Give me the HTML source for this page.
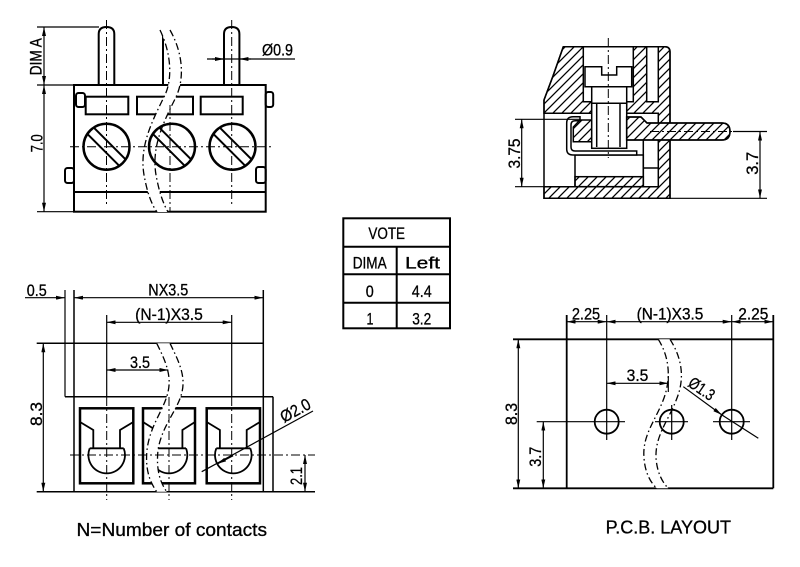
<!DOCTYPE html>
<html><head><meta charset="utf-8"><title>terminal block drawing</title>
<style>
html,body{margin:0;padding:0;background:#fff;width:800px;height:567px;overflow:hidden}
svg{display:block}
text{font-family:"Liberation Sans",sans-serif;font-size:16.5px;fill:#000;stroke:#000;stroke-width:0.3}
</style></head><body>
<svg width="800" height="567" viewBox="0 0 800 567" xmlns="http://www.w3.org/2000/svg">
<defs>
<marker id="a" viewBox="0 0 9 4" refX="9" refY="2" markerWidth="9" markerHeight="4" markerUnits="userSpaceOnUse" orient="auto-start-reverse"><path d="M0,0L9,2L0,4Z" fill="#000"/></marker>
<pattern id="h" patternUnits="userSpaceOnUse" width="9" height="9"><path d="M-2,2L2,-2M0,9L9,0M7,11L11,7" stroke="#000" stroke-width="1.3"/></pattern>
</defs>
<rect width="800" height="567" fill="#fff"/>

<!-- ================= TOP LEFT (front view) ================= -->
<g fill="none" stroke="#000" stroke-width="2">
<rect x="74" y="85" width="191.7" height="126.7"/>
<line x1="74" y1="192" x2="265.7" y2="192"/>
<path d="M98.7,85V34Q98.7,27 106.5,27Q114.3,27 114.3,34V85"/>
<path d="M224,85V34Q224,27 231.7,27Q239.4,27 239.4,34V85"/>
<line x1="163" y1="33" x2="163" y2="85"/>
<rect x="85.7" y="96.7" width="42.6" height="17.6"/>
<rect x="137" y="96.7" width="56" height="17.6"/>
<rect x="200.7" y="96.7" width="42" height="17.6"/>
<rect x="76" y="93" width="9" height="14" rx="2.5"/>
<rect x="65" y="168" width="9" height="15" rx="2.5"/>
<rect x="265.7" y="92" width="7.5" height="15" rx="2.5"/>
<rect x="256" y="167" width="9.7" height="16" rx="2.5"/>
</g>
<path d="M160,30C172,55 172,80 165,95C150,125 138,150 145,180C148,195 152,205 157,212L168,212C164,205 160,195 157,180C150,150 162,125 176,97C184,80 184,55 170,30Z" fill="#fff"/>
<g fill="none" stroke="#000" stroke-width="2.5">
<circle cx="106.5" cy="146.7" r="23"/>
<circle cx="172" cy="146.7" r="23"/>
<circle cx="232.5" cy="146.7" r="23"/>
</g>
<g stroke="#000" stroke-width="2">
<line x1="93.73" y1="127.57" x2="125.63" y2="159.47"/>
<line x1="87.37" y1="133.93" x2="119.27" y2="165.83"/>
<line x1="159.23" y1="127.57" x2="191.13" y2="159.47"/>
<line x1="152.87" y1="133.93" x2="184.77" y2="165.83"/>
<line x1="219.73" y1="127.57" x2="251.63" y2="159.47"/>
<line x1="213.37" y1="133.93" x2="245.27" y2="165.83"/>
</g>
<g stroke="#000" stroke-width="1" stroke-dasharray="9 3 2 3" fill="none">
<line x1="70" y1="146.7" x2="271" y2="146.7"/>
<line x1="106.5" y1="20" x2="106.5" y2="205"/>
<line x1="231.7" y1="20" x2="231.7" y2="205"/>
<line x1="170" y1="105" x2="170" y2="212"/>
</g>
<g stroke="#000" stroke-width="1.3" stroke-dasharray="7 3 1.5 3" fill="none">
<path d="M160,30C172,55 172,80 165,95C150,125 138,150 145,180C148,195 152,205 157,212"/>
<path d="M170,30C184,55 184,80 176,97C162,125 150,150 157,180C160,195 164,205 168,212"/>
</g>
<g stroke="#000" stroke-width="1.2" fill="none">
<line x1="37" y1="27" x2="99" y2="27"/>
<line x1="37" y1="85" x2="74" y2="85"/>
<line x1="37" y1="211.7" x2="74" y2="211.7"/>
<line x1="44" y1="27" x2="44" y2="85" marker-start="url(#a)" marker-end="url(#a)"/>
<line x1="44" y1="85" x2="44" y2="211.7" marker-start="url(#a)" marker-end="url(#a)"/>
<line x1="207" y1="59" x2="295" y2="59"/>
<path d="M212,59H224" marker-end="url(#a)"/>
<path d="M251,59H239.4" marker-end="url(#a)"/>
</g>
<text transform="translate(41.5,56.7) rotate(-90)" text-anchor="middle" textLength="37" lengthAdjust="spacingAndGlyphs">DIM A</text>
<text transform="translate(42.3,143.3) rotate(-90)" text-anchor="middle" textLength="18" lengthAdjust="spacingAndGlyphs">7.0</text>
<text x="262" y="55.5" textLength="31" lengthAdjust="spacingAndGlyphs">Ø0.9</text>

<!-- ================= TOP RIGHT (section) ================= -->
<g stroke="#000" stroke-width="1.5">
<path d="M563.3,46.7H665Q670,46.7 670,52V198.3H544V100L553,76Z" fill="#fff"/>
<path d="M563.3,46.7H583.3V101.7H591.7V113.3H544V100L553,76Z" fill="url(#h)"/>
<path d="M633.3,46.7H646.7V101.7H658.3V46.7H665Q670,46.7 670,52V198.3H544V186.7H658.3V113.3H626.7V101.7H633.3Z" fill="url(#h)"/>
<rect x="575" y="155" width="68.3" height="31.7" fill="#fff"/>
<rect x="575" y="176.7" width="68.3" height="10" fill="url(#h)"/>
<path d="M580,116.7H573Q566.7,116.7 566.7,123V149Q566.7,155 573,155H636.7V151H575Q571,151 571,147V125Q571,120.7 575,120.7H580Z" fill="#fff"/>
<path d="M580,120H591.7V141.7H573.3V127Z" fill="url(#h)"/>
<rect x="591.7" y="86.7" width="35" height="61.6" fill="#fff"/>
<path d="M585,86.7V66.7H601.7V75H616.7V66.7H631.7V86.7Z" fill="#fff"/>
<path d="M626.7,117H641L647,123H722Q730,123 730,131.5Q730,140 722,140H626.7Z" fill="#fff"/>
<path d="M626.7,117H641L647,123H722Q730,123 730,131.5Q730,140 722,140H626.7Z" fill="url(#h)"/>
<line x1="591.7" y1="103.3" x2="626.7" y2="103.3"/>
<line x1="596.7" y1="103.3" x2="596.7" y2="147"/>
<line x1="620" y1="103.3" x2="620" y2="147"/>
<line x1="643.3" y1="140" x2="643.3" y2="186.7"/>
<line x1="643.3" y1="168" x2="658.3" y2="168"/>
</g>
<g stroke="#000" stroke-width="1" stroke-dasharray="9 3 2 3" fill="none">
<line x1="608.3" y1="38" x2="608.3" y2="158"/>
<line x1="650" y1="131.5" x2="736" y2="131.5"/>
</g>
<g stroke="#000" stroke-width="1.2" fill="none">
<line x1="515" y1="119.3" x2="580" y2="119.3"/>
<line x1="515" y1="186.7" x2="544" y2="186.7"/>
<line x1="521.7" y1="119.3" x2="521.7" y2="186.7" marker-start="url(#a)" marker-end="url(#a)"/>
<line x1="733" y1="131.5" x2="767" y2="131.5"/>
<line x1="670" y1="198.3" x2="767" y2="198.3"/>
<line x1="760" y1="131.5" x2="760" y2="198.3" marker-start="url(#a)" marker-end="url(#a)"/>
</g>
<text transform="translate(519.8,153.5) rotate(-90)" text-anchor="middle" textLength="30" lengthAdjust="spacingAndGlyphs">3.75</text>
<text transform="translate(757.8,163.3) rotate(-90)" text-anchor="middle" textLength="23" lengthAdjust="spacingAndGlyphs">3.7</text>

<!-- ================= TABLE ================= -->
<g stroke="#000" stroke-width="2" fill="none">
<rect x="343.3" y="218.3" width="106.7" height="110"/>
<line x1="343.3" y1="246.7" x2="450" y2="246.7"/>
<line x1="343.3" y1="274.3" x2="450" y2="274.3"/>
<line x1="343.3" y1="302.7" x2="450" y2="302.7"/>
<line x1="396.7" y1="246.7" x2="396.7" y2="328.3"/>
</g>
<text x="386.7" y="239" text-anchor="middle" textLength="36.7" lengthAdjust="spacingAndGlyphs">VOTE</text>
<text x="369.7" y="268.5" text-anchor="middle" textLength="34" lengthAdjust="spacingAndGlyphs">DIMA</text>
<text x="422.5" y="268.5" text-anchor="middle" textLength="35" lengthAdjust="spacingAndGlyphs">Left</text>
<text x="369.7" y="297" text-anchor="middle" textLength="8" lengthAdjust="spacingAndGlyphs">0</text>
<text x="421.7" y="297" text-anchor="middle" textLength="20" lengthAdjust="spacingAndGlyphs">4.4</text>
<text x="370" y="324.5" text-anchor="middle" textLength="7" lengthAdjust="spacingAndGlyphs">1</text>
<text x="421.7" y="324.5" text-anchor="middle" textLength="19" lengthAdjust="spacingAndGlyphs">3.2</text>

<!-- ================= BOTTOM LEFT ================= -->
<g stroke="#000" fill="none">
<g stroke-width="1.5">
<line x1="36.7" y1="343.3" x2="263.3" y2="343.3"/>
<line x1="74" y1="290" x2="74" y2="491.7"/>
<line x1="263.3" y1="290" x2="263.3" y2="491.7"/>
<line x1="65" y1="396.7" x2="273" y2="396.7"/>
<line x1="273" y1="396.7" x2="273" y2="491.7"/>
<line x1="36.7" y1="491.7" x2="315" y2="491.7"/>
</g>
<g stroke-width="2.5">
<rect x="80" y="408.3" width="53.3" height="75"/>
<rect x="143" y="408.3" width="52" height="75"/>
<rect x="206.7" y="408.3" width="53.3" height="75"/>
</g>
<g stroke-width="1.8">
<path d="M80,422L93.3,430V448.3M120,448.3V430L133.3,422M89.7,448.3H123.7M89.7,448.3A18.3,18.3 0 1 0 123.7,448.3"/>
<path d="M143,422L155.6,430V448.3M182.4,448.3V430L195,422M152,448.3H186M152,448.3A18.3,18.3 0 1 0 186,448.3"/>
<path d="M206.7,422L219.9,430V448.3M246.7,448.3V430L260,422M216.3,448.3H250.3M216.3,448.3A18.3,18.3 0 1 0 250.3,448.3"/>
</g>
</g>
<path d="M156.7,343.3C165,360 172,375 168,392C164,410 150,425 147,450C145,470 150,482 156.7,491.7L166.7,491.7C160,482 156,470 158,450C162,425 178,410 182,392C186,375 178,360 170,343.3Z" fill="#fff"/>
<g stroke="#000" stroke-width="1.3" stroke-dasharray="7 3 1.5 3" fill="none">
<path d="M156.7,343.3C165,360 172,375 168,392C164,410 150,425 147,450C145,470 150,482 156.7,491.7"/>
<path d="M170,343.3C178,360 186,375 182,392C178,410 162,425 158,450C156,470 160,482 166.7,491.7"/>
</g>
<g stroke="#000" stroke-width="1" stroke-dasharray="9 3 2 3" fill="none">
<line x1="70" y1="455" x2="315" y2="455"/>
<line x1="106.7" y1="397" x2="106.7" y2="500"/>
<line x1="169" y1="397" x2="169" y2="500"/>
<line x1="231.7" y1="397" x2="231.7" y2="500"/>
</g>
<g stroke="#000" stroke-width="1.2" fill="none">
<line x1="65" y1="290" x2="65" y2="396.7"/>
<line x1="106.7" y1="315" x2="106.7" y2="397"/>
<line x1="231.7" y1="315" x2="231.7" y2="397"/>
<line x1="25" y1="297.7" x2="65" y2="297.7" marker-end="url(#a)"/>
<line x1="74" y1="297.7" x2="263.3" y2="297.7" marker-start="url(#a)" marker-end="url(#a)"/>
<line x1="106.7" y1="322.3" x2="231.7" y2="322.3" marker-start="url(#a)" marker-end="url(#a)"/>
<line x1="106.7" y1="370" x2="168.3" y2="370" marker-start="url(#a)" marker-end="url(#a)"/>
<line x1="43.3" y1="343.3" x2="43.3" y2="491.7" marker-start="url(#a)" marker-end="url(#a)"/>
<line x1="305" y1="455" x2="305" y2="491.7" marker-start="url(#a)" marker-end="url(#a)"/>
<line x1="201.7" y1="471.7" x2="313" y2="411"/>
<path d="M233,455.5L217.2,463.8" marker-end="url(#a)" stroke-width="1.6"/>
</g>
<text x="26.7" y="296" textLength="20" lengthAdjust="spacingAndGlyphs">0.5</text>
<text x="168.3" y="295.7" text-anchor="middle" textLength="40" lengthAdjust="spacingAndGlyphs">NX3.5</text>
<text x="169" y="320" text-anchor="middle" textLength="67.7" lengthAdjust="spacingAndGlyphs">(N-1)X3.5</text>
<text x="140" y="368" text-anchor="middle" textLength="20" lengthAdjust="spacingAndGlyphs">3.5</text>
<text transform="translate(41.8,414) rotate(-90)" text-anchor="middle" textLength="24" lengthAdjust="spacingAndGlyphs">8.3</text>
<text transform="translate(302,476) rotate(-90)" text-anchor="middle" textLength="18" lengthAdjust="spacingAndGlyphs">2.1</text>
<text transform="translate(284,423) rotate(-28.6)" textLength="32" lengthAdjust="spacingAndGlyphs">Ø2.0</text>

<!-- ================= BOTTOM RIGHT (PCB) ================= -->
<g stroke="#000" stroke-width="1.8" fill="none">
<line x1="513" y1="339.3" x2="773.3" y2="339.3"/>
<line x1="513" y1="488.3" x2="773.3" y2="488.3"/>
<line x1="566.7" y1="315" x2="566.7" y2="488.3"/>
<line x1="773.3" y1="315" x2="773.3" y2="488.3"/>
</g>
<path d="M658.3,339.3C668,355 672,375 664,398C656,420 642,435 644,458C645,472 650,482 656.7,488.3L668.3,488.3C662,482 657,472 656,458C655,435 669,420 677,398C686,375 680,355 670,339.3Z" fill="#fff"/>
<g stroke="#000" stroke-width="1.3" stroke-dasharray="7 3 1.5 3" fill="none">
<path d="M658.3,339.3C668,355 672,375 664,398C656,420 642,435 644,458C645,472 650,482 656.7,488.3"/>
<path d="M670,339.3C680,355 686,375 677,398C669,420 655,435 656,458C657,472 662,482 668.3,488.3"/>
</g>
<g stroke="#000" stroke-width="1.8" fill="none">
<circle cx="606.7" cy="421.7" r="12"/>
<circle cx="671.7" cy="421.7" r="12"/>
<circle cx="731.7" cy="421.7" r="12"/>
</g>
<g stroke="#000" stroke-width="1.2" fill="none">
<line x1="536.7" y1="421.7" x2="625" y2="421.7"/>
<line x1="606.7" y1="315" x2="606.7" y2="440"/>
<line x1="655" y1="421.7" x2="688" y2="421.7"/>
<line x1="671.7" y1="405" x2="671.7" y2="440"/>
<line x1="668.3" y1="376" x2="668.3" y2="392"/>
<line x1="713" y1="421.7" x2="750" y2="421.7"/>
<line x1="731.7" y1="315" x2="731.7" y2="440"/>
<line x1="566.7" y1="321.7" x2="606.7" y2="321.7" marker-start="url(#a)" marker-end="url(#a)"/>
<line x1="606.7" y1="321.7" x2="731.7" y2="321.7" marker-start="url(#a)" marker-end="url(#a)"/>
<line x1="731.7" y1="321.7" x2="773.3" y2="321.7" marker-start="url(#a)" marker-end="url(#a)"/>
<line x1="606.7" y1="383.3" x2="668.3" y2="383.3" marker-start="url(#a)" marker-end="url(#a)"/>
<line x1="518.3" y1="339.3" x2="518.3" y2="488.3" marker-start="url(#a)" marker-end="url(#a)"/>
<line x1="543.3" y1="421.7" x2="543.3" y2="488.3" marker-start="url(#a)" marker-end="url(#a)"/>
<path d="M683.3,386.7L721.8,414.9" marker-end="url(#a)"/>
<line x1="721.8" y1="414.9" x2="758.3" y2="438.3"/>
</g>
<text x="586" y="319.5" text-anchor="middle" textLength="28.3" lengthAdjust="spacingAndGlyphs">2.25</text>
<text x="670" y="319.5" text-anchor="middle" textLength="66.7" lengthAdjust="spacingAndGlyphs">(N-1)X3.5</text>
<text x="753.3" y="319.5" text-anchor="middle" textLength="30" lengthAdjust="spacingAndGlyphs">2.25</text>
<text x="637.5" y="381" text-anchor="middle" textLength="21.7" lengthAdjust="spacingAndGlyphs">3.5</text>
<text transform="translate(516.8,414) rotate(-90)" text-anchor="middle" textLength="22" lengthAdjust="spacingAndGlyphs">8.3</text>
<text transform="translate(541,456.7) rotate(-90)" text-anchor="middle" textLength="20" lengthAdjust="spacingAndGlyphs">3.7</text>
<text transform="translate(687,385.5) rotate(34.5)" textLength="28" lengthAdjust="spacingAndGlyphs">Ø1.3</text>

<!-- ================= CAPTIONS ================= -->
<text x="76.5" y="536" style="font-size:18px" textLength="190.5" lengthAdjust="spacingAndGlyphs">N=Number of contacts</text>
<text x="605.6" y="533.5" style="font-size:18px" textLength="125.4" lengthAdjust="spacingAndGlyphs">P.C.B.  LAYOUT</text>
</svg>
</body></html>
